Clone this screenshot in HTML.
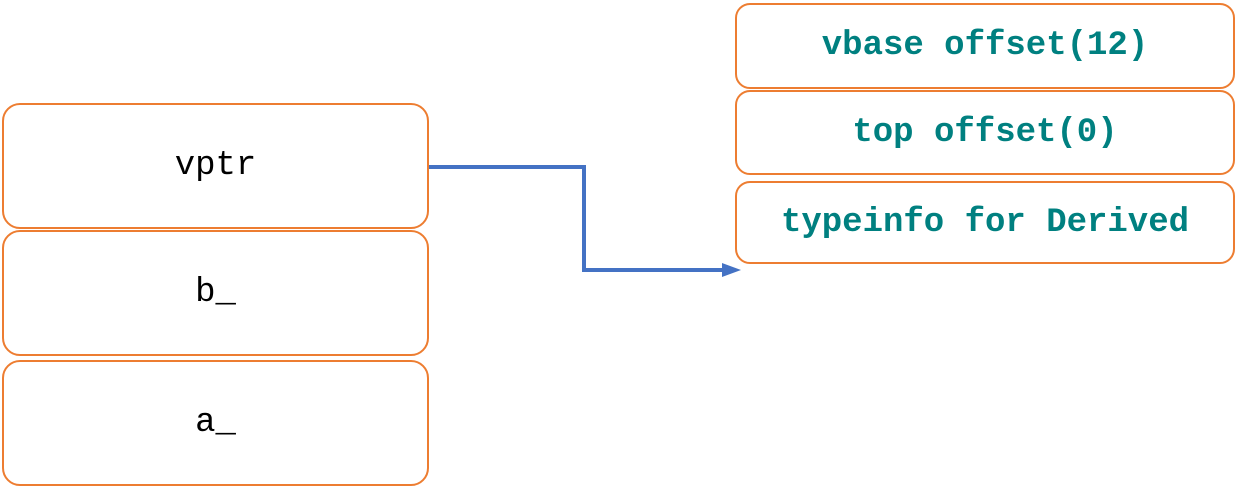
<!DOCTYPE html>
<html><head><style>
body{margin:0;width:1237px;height:487px;background:#fff;position:relative;overflow:hidden;font-family:"Liberation Mono",monospace;}
.b{position:absolute;box-sizing:border-box;border:2px solid #ED7D31;border-radius:18px;display:flex;align-items:center;justify-content:center;font-size:34px;}
.l{color:#000;}
.r{color:#008080;border-radius:15px;font-weight:bold;font-size:34px;}
</style></head><body>
<div class="b l" style="left:2px;top:103px;width:427px;height:126px;">vptr</div>
<div class="b l" style="left:2px;top:230px;width:427px;height:126px;">b_</div>
<div class="b l" style="left:2px;top:360px;width:427px;height:126px;">a_</div>
<div class="b r" style="left:735px;top:3px;width:500px;height:86px;">vbase offset(12)</div>
<div class="b r" style="left:735px;top:90px;width:500px;height:85px;">top offset(0)</div>
<div class="b r" style="left:735px;top:181px;width:500px;height:83px;">typeinfo for Derived</div>
<svg style="position:absolute;left:0;top:0" width="1237" height="487">
<polyline points="429,167 584,167 584,270 724,270" fill="none" stroke="#4472C4" stroke-width="4"/>
<polygon points="722,263 741,270 722,277" fill="#4472C4"/>
</svg>
</body></html>
